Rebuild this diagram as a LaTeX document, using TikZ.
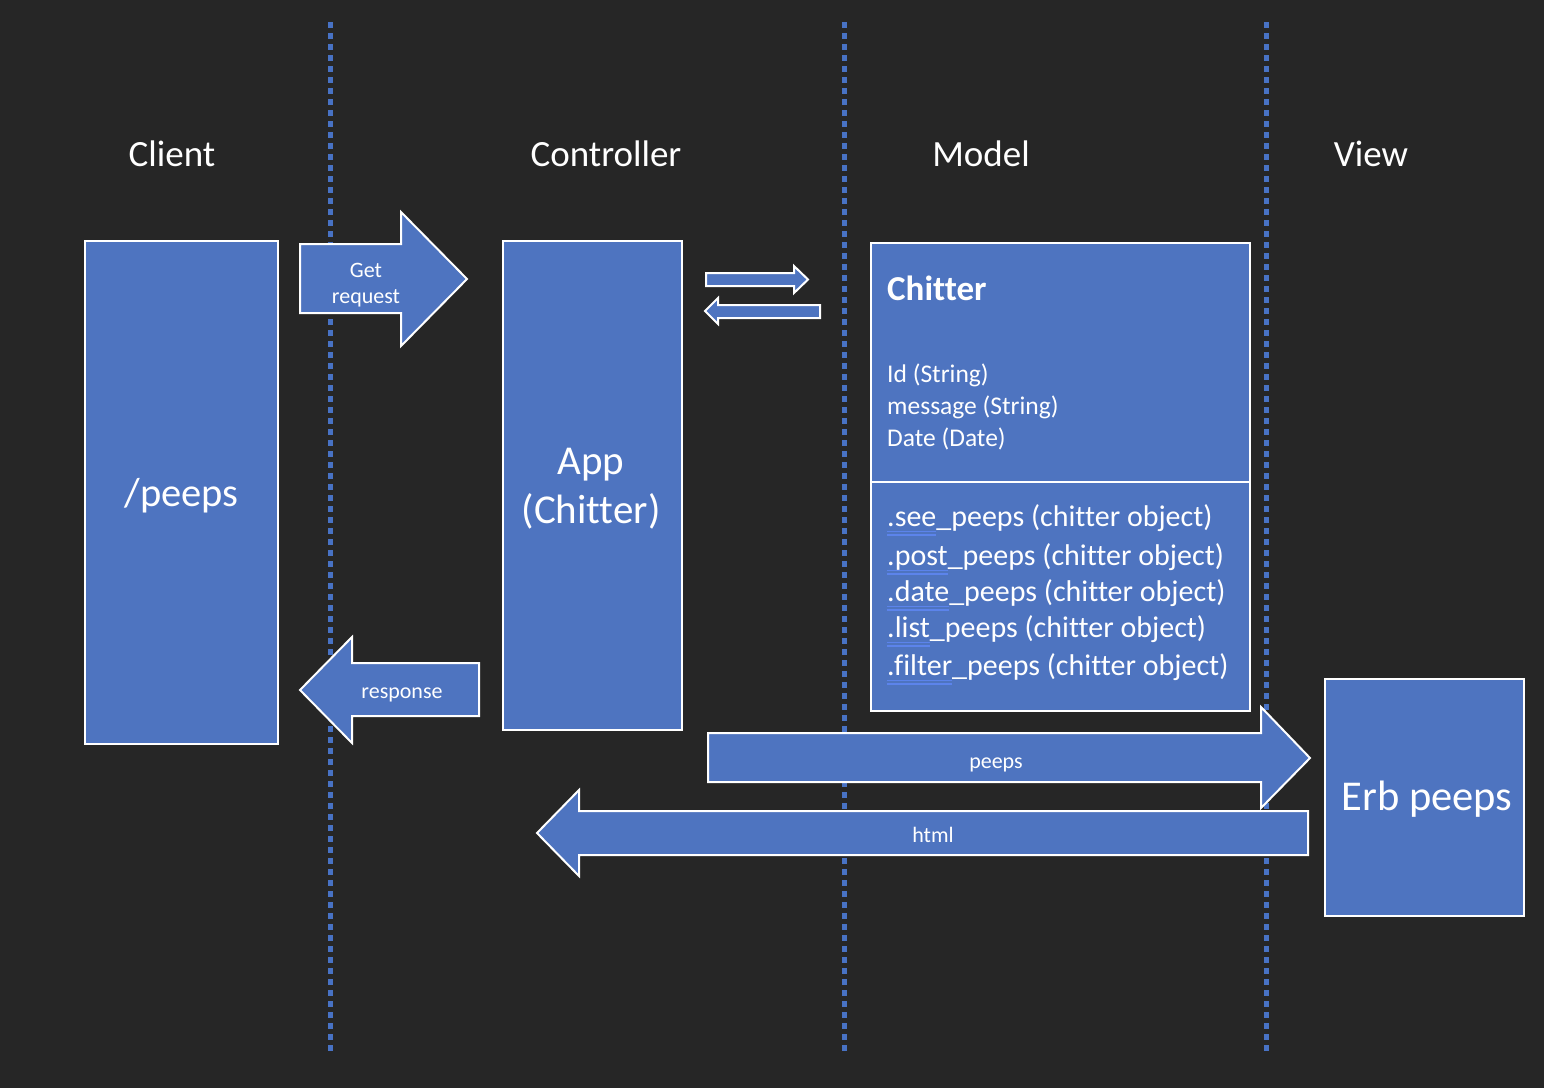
\documentclass[tikz,border=0pt]{standalone}
\usepackage{fontspec}
\setmainfont{Carlito}[Ligatures={NoCommon}]
\definecolor{bg}{RGB}{38,38,38}
\definecolor{blk}{RGB}{78,116,192}
\definecolor{dotblue}{RGB}{72,114,196}
\definecolor{ulblue}{RGB}{92,132,235}
\newcommand\wavy[1]{\setbox0=\hbox{#1}\rlap{\color{ulblue}\rule[-6pt]{\wd0}{1.5pt}}\rlap{\color{ulblue}\rule[-9.5pt]{\wd0}{1.5pt}}#1}
\newcommand\fs[1]{\fontsize{#1}{1.22\dimexpr#1pt\relax}\selectfont}
\tikzset{
  blkbox/.style={draw=white, line width=2pt, fill=blk, text=white, inner sep=0pt, align=center},
  blkarrow/.style={draw=white, line width=2pt, fill=blk, line join=miter},
  sep/.style={draw=dotblue, line width=5pt, dash pattern=on 6pt off 5pt},
  head/.style={text=white, anchor=base, font=\fs{37}},
  lbl/.style={text=white, font=\fs{22}, inner sep=0pt, align=center},
  attr/.style={text=white, anchor=base west, font=\fs{25.5}, inner sep=0pt},
  meth/.style={text=white, anchor=base west, font=\fs{30}, inner sep=0pt},
}
\begin{document}
\begin{tikzpicture}[x=1pt,y=-1pt]
\fill[bg] (0,0) rectangle (1544,1088);
\useasboundingbox (0,0) rectangle (1544,1088);
% separators
\coordinate (s1t) at (330,22); \coordinate (s1b) at (330,1055);
\coordinate (s2t) at (844,22); \coordinate (s2b) at (844,1055);
\coordinate (s3t) at (1266,22); \coordinate (s3b) at (1266,1055);
\draw[sep] (s1t) -- (s1b);
\draw[sep] (s2t) -- (s2b);
\draw[sep] (s3t) -- (s3b);
% headers
\node[head] (hclient) at (172,166) {Client};
\node[head] (hctrl) at (606,166) {Controller};
\node[head] (hmodel) at (981,166) {Model};
\node[head] (hview) at (1371,166) {View};
% boxes
\node[blkbox, minimum width=193pt, minimum height=503pt, anchor=north west, font=\fs{40.5}, text depth=0pt] (client) at (84,240) {/peeps};
\node[blkbox, minimum width=179pt, minimum height=489pt, anchor=north west] (app) at (502,240) {};
\node[text=white, align=center, inner sep=0pt, font={\fontsize{41}{49}\selectfont}] (apptext) at (591,489) {App\\(Chitter)};
\node[blkbox, minimum width=379pt, minimum height=468pt, anchor=north west] (model) at (870,242) {};
\draw[white, line width=2pt] (870,482) -- (1249,482);
\node[blkbox, minimum width=199pt, minimum height=237pt, anchor=north west] (view) at (1324,678) {};
\node[text=white, inner sep=0pt, font=\fs{42.5}] (viewtext) at (1427,799) {Erb peeps};
% model text
\node[text=white, anchor=base west, font=\fs{35}\bfseries, inner sep=0pt] (title) at (887,300) {Chitter};
\node[attr] (a1) at (887,382) {Id (String)};
\node[attr] (a2) at (887,414) {message (String)};
\node[attr] (a3) at (887,446) {Date (Date)};
\node[meth] (m1) at (887,526) {\wavy{.see}\_peeps (chitter object)};
\node[meth] (m2) at (887,565) {\wavy{.post}\_peeps (chitter object)};
\node[meth] (m3) at (887,601) {\wavy{.date}\_peeps (chitter object)};
\node[meth] (m4) at (887,637) {\wavy{.list}\_peeps (chitter object)};
\node[meth] (m5) at (887,675) {\wavy{.filter}\_peeps (chitter object)};
% block arrows
\draw[blkarrow] (300,244) -- (401,244) -- (401,212) -- (467,279) -- (401,346) -- (401,313) -- (300,313) -- cycle;
\node[lbl, font={\fontsize{22}{26}\selectfont}] (get) at (366,285) {Get\\request};
\draw[blkarrow] (479,663) -- (352,663) -- (352,637) -- (300,690) -- (352,743) -- (352,716) -- (479,716) -- cycle;
\node[lbl] (resp) at (402,695) {response};
\draw[blkarrow] (706,273) -- (794,273) -- (794,266) -- (808,279.5) -- (794,293) -- (794,286) -- (706,286) -- cycle;
\draw[blkarrow] (820,305) -- (718,305) -- (718,298) -- (705,311) -- (718,324) -- (718,318) -- (820,318) -- cycle;
\draw[blkarrow] (708,733) -- (1261,733) -- (1261,707) -- (1310,758) -- (1261,808) -- (1261,782) -- (708,782) -- cycle;
\node[lbl] (peeps) at (996,765) {peeps};
\draw[blkarrow] (1308,811) -- (579,811) -- (579,790) -- (537,833) -- (579,876) -- (579,855) -- (1308,855) -- cycle;
\node[lbl] (html) at (933,835) {html};
\end{tikzpicture}
\end{document}
